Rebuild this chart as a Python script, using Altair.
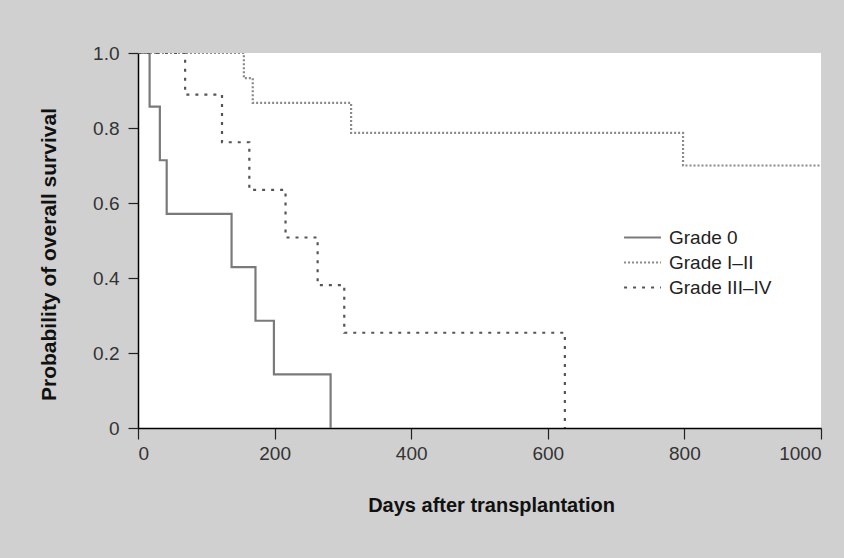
import altair as alt
import pandas as pd

# Kaplan-Meier step data
g0_days = [0, 17, 32, 42, 137, 172, 199, 282]
g0_surv = [1.0, 0.857, 0.714, 0.571, 0.429, 0.286, 0.143, 0.0]

g12_days = [0, 155, 168, 312, 798, 1000]
g12_surv = [1.0, 0.933, 0.867, 0.787, 0.70, 0.70]

g34_days = [0, 69, 123, 163, 216, 263, 302, 625]
g34_surv = [1.0, 0.889, 0.762, 0.635, 0.508, 0.381, 0.254, 0.0]

series = ["Grade 0", "Grade I\u2013II", "Grade III\u2013IV"]
y_ticks = [0, 0.2, 0.4, 0.6, 0.8, 1.0]
x_ticks = [0, 200, 400, 600, 800, 1000]

rows = []
for name, days, surv in zip(series, [g0_days, g12_days, g34_days], [g0_surv, g12_surv, g34_surv]):
    for i, (d, s) in enumerate(zip(days, surv)):
        rows.append({"group": name, "day": d, "surv": s, "order": i})
df = pd.DataFrame(rows)

FONT = "Liberation Sans"

legend = alt.Legend(title=None, orient="none", legendX=492, legendY=172,
                    symbolType="M-1.65,0H1.65", symbolSize=500, symbolStrokeWidth=2,
                    labelFontSize=19, labelFont=FONT, labelColor="#222222",
                    rowPadding=2, labelOffset=14)

chart = alt.Chart(df).mark_line(interpolate="step-after", strokeWidth=2.2, clip=True).encode(
    x=alt.X("day:Q",
            scale=alt.Scale(domain=[0, 1000], nice=False, zero=True),
            axis=alt.Axis(values=x_ticks, title="Days after transplantation",
                          format="d", grid=False, tickSize=11, labelPadding=5,
                          titleFontSize=20,
                          titleX=353, titleY=77, titleBaseline="middle", titleAlign="center")),
    y=alt.Y("surv:Q",
            scale=alt.Scale(domain=[0, 1], nice=False),
            axis=alt.Axis(values=y_ticks, title="Probability of overall survival",
                          labelExpr="datum.value == 0 ? '0' : format(datum.value, '.1f')",
                          grid=False, tickSize=10, labelPadding=9,
                          titleFontSize=21,
                          titleX=-89, titleY=201, titleBaseline="middle", titleAlign="center")),
    color=alt.Color("group:N", sort=series,
                    scale=alt.Scale(domain=series, range=["#7a7a7a", "#8a8a8a", "#555555"]),
                    legend=legend),
    strokeDash=alt.StrokeDash("group:N", sort=series,
                              scale=alt.Scale(domain=series, range=[[1, 0], [2, 2], [3, 6]]),
                              legend=legend),
    order="order:Q",
).properties(
    width=683, height=375,
    padding={"left": 138, "top": 53, "right": 23, "bottom": 130},
    autosize=alt.AutoSizeParams(type="none"),
    background="#d0d0d0",
).configure_view(
    fill="white", stroke=None,
).configure_axis(
    domainColor="black", domainWidth=1.5, tickColor="#222222", tickWidth=1.2,
    labelFont=FONT, labelFontSize=19, labelColor="#333333",
    titleFont=FONT, titleFontSize=19, titleFontWeight="bold", titleColor="#111111",
)

chart.save("out.html", embed_options={"renderer": "svg", "actions": False})
